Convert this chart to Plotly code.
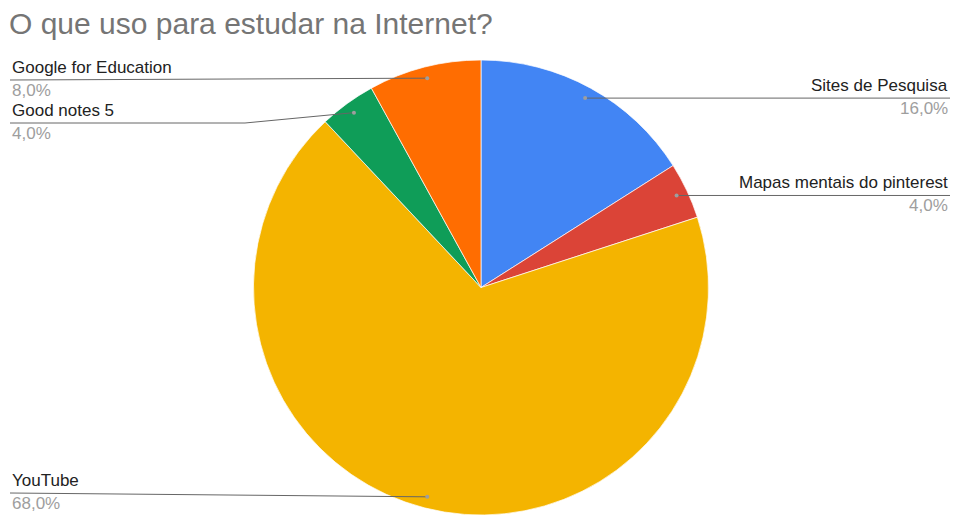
import math
import plotly.graph_objects as go

# ---- data ----
categories = ["Sites de Pesquisa", "Mapas mentais do pinterest", "YouTube",
              "Good notes 5", "Google for Education"]
values = [16.0, 4.0, 68.0, 4.0, 8.0]
colors = ["#4285F4", "#DB4437", "#F4B400", "#0F9D58", "#FF6D01"]
title_text = "O que uso para estudar na Internet?"

# ---- layout ----
W, H = 955, 515
CX, CY, R = 481, 287.5, 227.5          # pie centre/radius in pixels
DOT_R = 0.95                            # leader anchor fraction of radius
# per-label: side, y of label line (px), elbow x (px or None)
label_layout = {
    "Sites de Pesquisa": ("right", None, None),
    "Mapas mentais do pinterest": ("right", None, None),
    "YouTube": ("left", 493, None),
    "Good notes 5": ("left", 123, 245),
    "Google for Education": ("left", 80, None),
}
LEFT_X, RIGHT_X = 10, 950
LABEL_FONT = "Liberation Sans, Arial"


def px(x):
    return x / W


def py(y):
    return 1 - y / H


fig = go.Figure(go.Pie(
    labels=categories, values=values, sort=False, direction="clockwise",
    rotation=0, marker=dict(colors=colors, line=dict(color="white", width=0.7)),
    textinfo="none", hoverinfo="label+percent", showlegend=False,
    domain=dict(x=[(CX - R) / W, (CX + R) / W], y=[0, 2 * R / H]),
))

shapes, annotations = [], []
total = sum(values)
cum = 0.0
for name, v in zip(categories, values):
    mid = (cum + v / 2) / total * 2 * math.pi
    cum += v
    ax = CX + DOT_R * R * math.sin(mid)
    ay = CY - DOT_R * R * math.cos(mid)
    side, ly, elbow = label_layout[name]
    if ly is None:
        ly = ay
    end_x = RIGHT_X if side == "right" else LEFT_X
    pts = [(ax, ay)]
    if elbow is not None:
        pts.append((elbow, ly))
    pts.append((end_x, ly))
    path = "M " + " L ".join(f"{px(x)},{py(y)}" for x, y in pts)
    shapes.append(dict(type="path", xref="paper", yref="paper", path=path,
                       line=dict(color="#666666", width=1)))
    shapes.append(dict(type="circle", xref="paper", yref="paper",
                       x0=px(ax - 2), x1=px(ax + 2), y0=py(ay + 2), y1=py(ay - 2),
                       fillcolor="#9e9e9e", line=dict(width=0)))
    xanchor = "right" if side == "right" else "left"
    annotations.append(dict(
        x=px(end_x), y=py(ly - 1), xref="paper", yref="paper",
        text=name, showarrow=False, xanchor=xanchor, yanchor="bottom",
        font=dict(family=LABEL_FONT, size=17, color="#222222"),
    ))
    pct = f"{v / total * 100:.1f}%".replace(".", ",")
    annotations.append(dict(
        x=px(end_x), y=py(ly - 1), xref="paper", yref="paper",
        text=pct, showarrow=False, xanchor=xanchor, yanchor="top",
        font=dict(family=LABEL_FONT, size=17, color="#9e9e9e"),
    ))

annotations.append(dict(
    x=px(7), y=py(5), xref="paper", yref="paper", text=title_text,
    showarrow=False, xanchor="left", yanchor="top",
    font=dict(family=LABEL_FONT, size=30, color="#757575"),
))

fig.update_layout(
    width=W, height=H, margin=dict(l=0, r=0, t=0, b=0),
    paper_bgcolor="white", plot_bgcolor="white",
    shapes=shapes, annotations=annotations,
)

fig.write_html("out.html")
